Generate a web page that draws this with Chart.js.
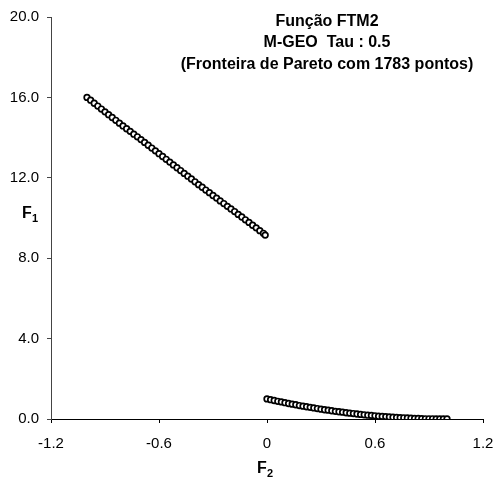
<!DOCTYPE html>
<html>
<head>
<meta charset="utf-8">
<script src="https://cdn.jsdelivr.net/npm/chart.js@4"></script>
<style>
  body { margin: 0; background: #fff; }
  #wrap { width: 495px; height: 479px; position: relative; }
</style>
</head>
<body>
<div id="wrap"><canvas id="myChart"></canvas></div>
<script>
// Pareto front, upper branch (F2 < 0)
const f2Upper = [-1.00, -0.98, -0.96, -0.94, -0.92, -0.90, -0.88, -0.86, -0.84, -0.82,
    -0.80, -0.78, -0.76, -0.74, -0.72, -0.70, -0.68, -0.66, -0.64, -0.62,
    -0.60, -0.58, -0.56, -0.54, -0.52, -0.50, -0.48, -0.46, -0.44, -0.42,
    -0.40, -0.38, -0.36, -0.34, -0.32, -0.30, -0.28, -0.26, -0.24, -0.22,
    -0.20, -0.18, -0.16, -0.14, -0.12, -0.10, -0.08, -0.06, -0.04, -0.02, -0.01];
const f1Upper = [16.00, 15.86, 15.71, 15.57, 15.42, 15.28, 15.14, 15.00, 14.86, 14.72,
    14.58, 14.44, 14.31, 14.17, 14.04, 13.90, 13.76, 13.62, 13.48, 13.34,
    13.20, 13.06, 12.92, 12.78, 12.64, 12.50, 12.36, 12.22, 12.08, 11.94,
    11.80, 11.66, 11.53, 11.39, 11.26, 11.12, 10.99, 10.85, 10.72, 10.58,
    10.45, 10.32, 10.18, 10.05, 9.91, 9.78, 9.64, 9.51, 9.37, 9.24, 9.15];

// lower branch (F2 >= 0)
const f2Lower = [0.00, 0.02, 0.04, 0.06, 0.08, 0.10, 0.12, 0.14, 0.16, 0.18,
    0.20, 0.22, 0.24, 0.26, 0.28, 0.30, 0.32, 0.34, 0.36, 0.38,
    0.40, 0.42, 0.44, 0.46, 0.48, 0.50, 0.52, 0.54, 0.56, 0.58,
    0.60, 0.62, 0.64, 0.66, 0.68, 0.70, 0.72, 0.74, 0.76, 0.78,
    0.80, 0.82, 0.84, 0.86, 0.88, 0.90, 0.92, 0.94, 0.96, 0.98, 1.00];
const f1Lower = [1.00, 0.96, 0.92, 0.88, 0.85, 0.81, 0.77, 0.74, 0.71, 0.67,
    0.64, 0.61, 0.58, 0.55, 0.52, 0.49, 0.46, 0.44, 0.41, 0.38,
    0.36, 0.34, 0.31, 0.29, 0.27, 0.25, 0.23, 0.21, 0.19, 0.18,
    0.16, 0.14, 0.13, 0.12, 0.10, 0.09, 0.08, 0.07, 0.06, 0.05,
    0.04, 0.03, 0.03, 0.02, 0.01, 0.01, 0.01, 0.00, 0.00, 0.00, 0.00];

const xTicks = [-1.2, -0.6, 0, 0.6, 1.2];
const yTicks = [0, 4, 8, 12, 16, 20];
const titleLines = ['Função FTM2', 'M-GEO  Tau : 0.5', '(Fronteira de Pareto com 1783 pontos)'];

const FONT = '"Liberation Sans", Arial, sans-serif';

function toPoints(xs, ys) {
    return xs.map((x, i) => ({ x: x, y: ys[i] }));
}

// titles and axis labels drawn straight on the canvas
const textPlugin = {
    id: 'texts',
    afterDraw(chart) {
        const c = chart.ctx;
        c.save();
        c.fillStyle = '#000';
        c.textBaseline = 'middle';
        c.textAlign = 'center';
        c.font = 'bold 16px ' + FONT;
        c.fillText(titleLines[0], 327, 22);
        c.fillText(titleLines[1], 327, 43);
        c.fillText(titleLines[2], 327, 65);

        // F1 (y axis)
        c.textAlign = 'left';
        c.font = 'bold 16px ' + FONT;
        c.fillText('F', 22, 214);
        c.font = 'bold 11px ' + FONT;
        c.fillText('1', 32, 219);

        // F2 (x axis)
        c.font = 'bold 16px ' + FONT;
        c.fillText('F', 257, 469);
        c.font = 'bold 11px ' + FONT;
        c.fillText('2', 267, 474);
        c.restore();
    }
};

const pointStyle = {
    showLine: false,
    pointRadius: 2.8,
    pointBorderWidth: 1.7,
    pointBorderColor: '#000',
    pointBackgroundColor: '#fff'
};

new Chart(document.getElementById('myChart'), {
    type: 'scatter',
    data: {
        datasets: [
            Object.assign({ label: 'F2 < 0', data: toPoints(f2Upper, f1Upper) }, pointStyle),
            Object.assign({ label: 'F2 >= 0', data: toPoints(f2Lower, f1Lower) }, pointStyle)
        ]
    },
    options: {
        responsive: true,
        maintainAspectRatio: false,
        animation: false,
        layout: { padding: { top: 7, right: 0, left: 0, bottom: 0 } },
        plugins: {
            legend: { display: false },
            tooltip: { enabled: false }
        },
        scales: {
            x: {
                type: 'linear',
                min: -1.2,
                max: 1.2,
                afterBuildTicks: axis => { axis.ticks = xTicks.map(v => ({ value: v })); },
                afterFit: axis => {
                    axis.height = 60;
                    axis.paddingRight = 12; // room for the "1.2" label only
                },
                ticks: {
                    color: '#000',
                    font: { family: FONT, size: 15 },
                    padding: 12,
                    callback: v => (v === 0 ? '0' : v.toFixed(1))
                },
                grid: { drawOnChartArea: false, tickLength: 4, tickColor: '#000' },
                border: { display: true, color: '#000', width: 1 }
            },
            y: {
                type: 'linear',
                min: 0,
                max: 20,
                afterBuildTicks: axis => { axis.ticks = yTicks.map(v => ({ value: v })); },
                afterFit: axis => { axis.width = 51; },
                ticks: {
                    color: '#000',
                    font: { family: FONT, size: 15 },
                    padding: 8,
                    callback: v => v.toFixed(1)
                },
                grid: { drawOnChartArea: false, tickLength: 4, tickColor: '#444' },
                border: { display: true, color: '#444', width: 1 }
            }
        }
    },
    plugins: [textPlugin]
});
</script>
</body>
</html>
